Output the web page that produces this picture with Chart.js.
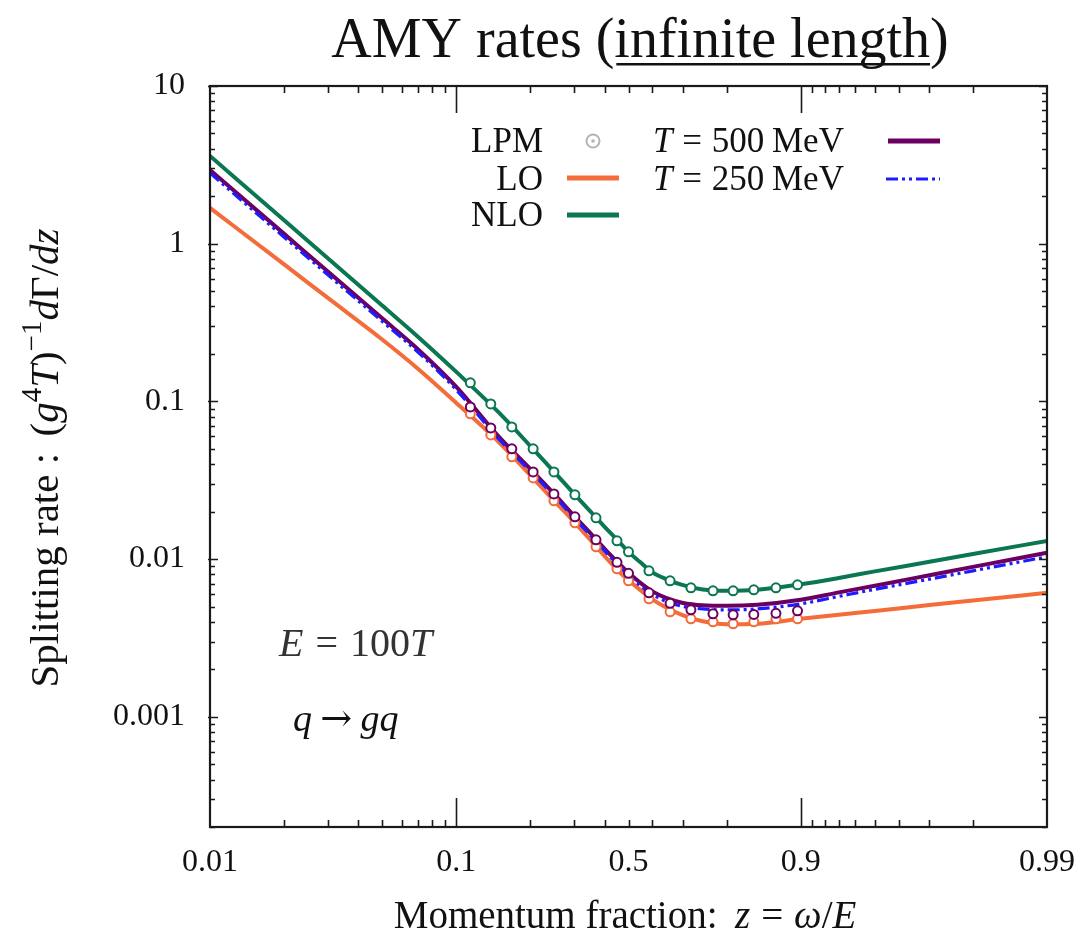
<!DOCTYPE html>
<html><head><meta charset="utf-8">
<script src="https://cdn.jsdelivr.net/npm/chart.js@4.4.1/dist/chart.umd.min.js"></script>
<style>html,body{margin:0;padding:0;background:#fff;} #wrap{width:1080px;height:939px;position:relative;}</style>
</head><body><div id="wrap"><canvas id="c"></canvas></div>
<script>
// ---------------- data ----------------
const zGrid    = [0.01,0.02,0.03,0.05,0.07,0.1,0.15,0.2,0.25,0.3,0.35,0.4,0.45,0.5,0.55,0.6,0.65,0.7,0.75,0.8,0.85,0.9,0.93,0.95,0.97,0.98,0.99];
const rateNLO  = [3.60,1.406,0.812,0.4055,0.2564,0.1538,0.0839,0.0520,0.0356,0.0260,0.02005,0.01603,0.01324,0.01111,0.00961,0.00823,0.00744,0.00683,0.00642,0.00629,0.00638,0.00692,0.00759,0.00836,0.00961,0.01076,0.01305];
const rateT500 = [2.934,1.154,0.668,0.3363,0.2136,0.1236,0.0589,0.0372,0.0258,0.01888,0.01461,0.01161,0.00961,0.00818,0.00712,0.00624,0.00565,0.00527,0.00509,0.00505,0.00513,0.00552,0.00615,0.00678,0.00790,0.00892,0.01096];
const rateT250 = [2.81,1.10,0.638,0.322,0.205,0.1183,0.0569,0.036,0.0251,0.0183,0.0142,0.01128,0.00927,0.00789,0.00681,0.00597,0.00538,0.00501,0.00483,0.00476,0.00483,0.0052,0.0058,0.00643,0.00746,0.00842,0.01034];
const rateLO   = [1.685,0.739,0.4545,0.247,0.1607,0.0978,0.0545,0.0340,0.0233,0.0173,0.01324,0.01044,0.00855,0.00733,0.0064,0.00556,0.00491,0.00439,0.00403,0.00386,0.00389,0.00418,0.00444,0.00469,0.00511,0.00546,0.00611];

const zLPM    = [0.114,0.138,0.168,0.205,0.249,0.303,0.369,0.449,0.5,0.587,0.661,0.721,0.773,0.812,0.845,0.874,0.897];
const lpmNLO  = [0.1311,0.0964,0.0689,0.0500,0.0357,0.02555,0.01826,0.01305,0.01111,0.00842,0.00728,0.00657,0.00629,0.00629,0.00638,0.00657,0.00687];
const lpmT500 = [0.0923,0.0679,0.0500,0.0357,0.0259,0.01853,0.01324,0.00954,0.00812,0.00611,0.00524,0.00477,0.0045,0.00443,0.00446,0.00453,0.0047];
const lpmLO   = [0.0834,0.0613,0.0445,0.0327,0.0234,0.01698,0.01196,0.00868,0.00728,0.0056,0.00463,0.00418,0.004,0.00389,0.004,0.00418,0.00418];

const xTickValues = [0.01,0.1,0.5,0.9,0.99];
const xTickLabels = ['0.01','0.1','0.5','0.9','0.99'];
const xMajorMarks = [0.1,0.9];
const xMinorMarks = [0.02,0.03,0.04,0.05,0.06,0.07,0.08,0.09,0.2,0.3,0.4,0.5,0.6,0.7,0.8,0.91,0.92,0.93,0.94,0.95,0.96,0.97,0.98];
const yTickValues = [0.001,0.01,0.1,1,10];
const yTickLabels = ['0.001','0.01','0.1','1','10'];
const yMinorMantissas = [2,3,4,5,6,7,8,9];
const yDecades = [1e-4,1e-3,1e-2,1e-1,1];

const C_NLO = '#0a7752', C_LO = '#f36c3a', C_500 = '#6c0062', C_250 = '#1c1cff', C_LPM = '#b4b4b4';
const FAM = "'Liberation Serif','Times New Roman',serif";

// ---------------- custom momentum-fraction axis ----------------
const g = z => z <= 0.5 ? Math.log10(z) : 2*Math.log10(0.5) - Math.log10(1 - z);
const gInv = t => t <= Math.log10(0.5) ? Math.pow(10, t) : 1 - Math.pow(10, 2*Math.log10(0.5) - t);
class ZFracScale extends Chart.LinearScale {
  buildTicks() { return xTickValues.map(v => ({value: v})); }
  configure() { super.configure(); this._g0 = g(this.min); this._g1 = g(this.max); }
  getPixelForValue(v) {
    if (v === null || v === undefined || isNaN(v)) return NaN;
    return this.getPixelForDecimal((g(v) - this._g0) / (this._g1 - this._g0));
  }
  getValueForPixel(p) { return gInv(this._g0 + this.getDecimalForPixel(p) * (this._g1 - this._g0)); }
}
ZFracScale.id = 'zfrac';
ZFracScale.defaults = {};
Chart.register(ZFracScale);

// ---------------- text helper ----------------
function runs(ctx, parts, x, y, size, align, color) {
  const font = st => {
    if (st === 'a') return size + "px 'DejaVu Serif',serif";
    return ((st === 'i' || st === 'supi') ? 'italic ' : '') +
      ((st === 'sup' || st === 'supi') ? Math.round(size * 0.7) : size) + 'px ' + FAM;
  };
  let w = 0;
  const items = parts.map(([t, st]) => {
    if (st === 'sp') { const ww = t * size; w += ww; return {t: '', st, w: ww}; }
    ctx.font = font(st); const ww = ctx.measureText(t).width; w += ww; return {t, st, w: ww};
  });
  let cx = align === 'center' ? x - w / 2 : align === 'right' ? x - w : x;
  const start = cx;
  ctx.fillStyle = color; ctx.textBaseline = 'alphabetic'; ctx.textAlign = 'left';
  const pos = [];
  for (const it of items) {
    pos.push(cx);
    if (it.t) {
      ctx.font = font(it.st);
      ctx.fillText(it.t, cx, (it.st === 'sup' || it.st === 'supi') ? y - size * 0.42 : y);
    }
    cx += it.w;
  }
  pos.push(cx);
  return {start, w, pos};
}

const decor = {
  id: 'decor',
  afterDatasetsDraw(chart) {
    const ctx = chart.ctx, a = chart.chartArea, xs = chart.scales.x, ys = chart.scales.y;
    ctx.save();
    ctx.strokeStyle = '#1a1a1a'; ctx.lineWidth = 1.6;
    ctx.beginPath();
    for (const z of xMinorMarks) {
      const p = Math.round(xs.getPixelForValue(z)) + 0.5;
      ctx.moveTo(p, a.bottom); ctx.lineTo(p, a.bottom - 7);
      ctx.moveTo(p, a.top); ctx.lineTo(p, a.top + 7);
    }
    for (const z of xMajorMarks) {
      const p = Math.round(xs.getPixelForValue(z)) + 0.5;
      ctx.moveTo(p, a.bottom); ctx.lineTo(p, a.bottom - 29);
      ctx.moveTo(p, a.top); ctx.lineTo(p, a.top + 27);
    }
    for (const d of yDecades) for (const m of yMinorMantissas) {
      const v = d * m; if (v < ys.min || v > ys.max) continue;
      const p = Math.round(ys.getPixelForValue(v)) + 0.5;
      ctx.moveTo(a.left, p); ctx.lineTo(a.left + 5, p);
      ctx.moveTo(a.right, p); ctx.lineTo(a.right - 5, p);
    }
    for (const v of yTickValues) {
      const p = Math.round(ys.getPixelForValue(v)) + 0.5;
      ctx.moveTo(a.left - 2, p); ctx.lineTo(a.left + 8, p);
      ctx.moveTo(a.right + 1, p); ctx.lineTo(a.right - 8, p);
    }
    ctx.stroke();
    ctx.lineWidth = 2.2;
    ctx.strokeRect(a.left, a.top, a.right - a.left, a.bottom - a.top);

    // legend
    const lg = 35;
    runs(ctx, [['LPM','n']], 543, 152, lg, 'right', '#111');
    runs(ctx, [['LO','n']], 543, 190, lg, 'right', '#111');
    runs(ctx, [['NLO','n']], 543, 226, lg, 'right', '#111');
    ctx.strokeStyle = C_LPM; ctx.lineWidth = 2;
    ctx.beginPath(); ctx.arc(593, 141, 6.5, 0, 2*Math.PI); ctx.stroke();
    ctx.fillStyle = C_LPM; ctx.beginPath(); ctx.arc(593, 141, 1.8, 0, 2*Math.PI); ctx.fill();
    ctx.lineCap = 'butt';
    ctx.lineWidth = 5; ctx.strokeStyle = C_LO;
    ctx.beginPath(); ctx.moveTo(567, 178); ctx.lineTo(619, 178); ctx.stroke();
    ctx.strokeStyle = C_NLO;
    ctx.beginPath(); ctx.moveTo(567, 215); ctx.lineTo(619, 215); ctx.stroke();
    ctx.strokeStyle = C_500;
    ctx.beginPath(); ctx.moveTo(888, 141); ctx.lineTo(940, 141); ctx.stroke();
    ctx.lineWidth = 3; ctx.strokeStyle = C_250; ctx.setLineDash([12,4,3,4,3,4]);
    ctx.beginPath(); ctx.moveTo(886, 179); ctx.lineTo(940, 179); ctx.stroke();
    ctx.setLineDash([]);
    const tRun = n => [['T','i'],[0.28,'sp'],['=','n'],[0.28,'sp'],[n,'n'],[0.22,'sp'],['MeV','n']];
    runs(ctx, tRun('500'), 653, 152, lg, 'left', '#111');
    runs(ctx, tRun('250'), 653, 190, lg, 'left', '#111');

    // annotations
    runs(ctx, [['E','i'],[0.3,'sp'],['=','n'],[0.3,'sp'],['100','n'],['T','i']], 279, 656, 40, 'left', '#333');
    runs(ctx, [['q','i'],[0.22,'sp'],['\u2192','a'],[0.22,'sp'],['gq','i']], 293, 731, 38, 'left', '#111');
    ctx.restore();
  },
  afterDraw(chart) {
    const ctx = chart.ctx;
    ctx.save();
    // title
    const r = runs(ctx, [['AMY rates (','n'],['infinite length','n'],[')','n']], 640, 57, 56, 'center', '#111');
    ctx.fillStyle = '#111';
    ctx.fillRect(r.pos[1] + 2, 63, r.pos[2] - r.pos[1] - 2, 2.5);
    // x title
    runs(ctx, [['Momentum fraction:','n'],[0.45,'sp'],['z','i'],[0.28,'sp'],['=','n'],[0.28,'sp'],['\u03C9','i'],['/','n'],['E','i']], 625, 928, 39, 'center', '#111');
    // y title
    ctx.translate(58, 458); ctx.rotate(-Math.PI/2);
    runs(ctx, [['Splitting rate :','n'],[0.4,'sp'],['(','n'],['g','i'],['4','sup'],['T','i'],[')','n'],['\u22121','sup'],['d','i'],['\u0393','n'],['/','n'],['d','i'],['z','i']], 0, 0, 41, 'center', '#111');
    ctx.restore();
  }
};

// ---------------- chart ----------------
const line = (label, vals, color, width, dash) => ({
  label, data: zGrid.map((z, i) => ({x: z, y: vals[i]})),
  borderColor: color, borderWidth: width, borderDash: dash || [], pointRadius: 0,
  fill: false, cubicInterpolationMode: 'monotone', borderCapStyle: 'butt', borderJoinStyle: 'round'
});
const marks = (label, vals, color) => ({
  label, data: zLPM.map((z, i) => ({x: z, y: vals[i]})), showLine: false,
  borderColor: color, backgroundColor: '#fff', borderWidth: 2, pointBorderWidth: 2,
  pointRadius: 4.5, pointStyle: 'circle'
});

new Chart(document.getElementById('c'), {
  type: 'line',
  data: { datasets: [
    marks('LPM NLO', lpmNLO, C_NLO),
    marks('LPM T=500', lpmT500, C_500),
    marks('LPM LO', lpmLO, C_LO),
    line('T = 250 MeV', rateT250, C_250, 3.2, [12,4,3,4,3,4]),
    line('T = 500 MeV', rateT500, C_500, 4),
    line('NLO', rateNLO, C_NLO, 4),
    line('LO', rateLO, C_LO, 4)
  ]},
  options: {
    responsive: true, maintainAspectRatio: false, animation: false, devicePixelRatio: 1,
    layout: { padding: { top: 86, right: 33, left: 0, bottom: 0 } },
    plugins: { legend: { display: false }, tooltip: { enabled: false }, title: { display: false } },
    scales: {
      x: {
        type: 'zfrac', min: 0.01, max: 0.99,
        grid: { display: false, drawTicks: false }, border: { display: false },
        ticks: { autoSkip: false, maxRotation: 0, padding: 16, color: '#111',
          font: { family: FAM, size: 32 },
          callback: (v) => { const i = xTickValues.indexOf(v); return i >= 0 ? xTickLabels[i] : ''; } },
        afterFit: s => { s.height = 112; s.paddingLeft = 0; s.paddingRight = 0; }
      },
      y: {
        type: 'logarithmic', min: 2e-4, max: 10,
        grid: { display: false, drawTicks: false }, border: { display: false },
        afterBuildTicks: s => { s.ticks = yTickValues.map(v => ({value: v, major: true})); },
        ticks: { autoSkip: false, padding: 25, color: '#111', font: { family: FAM, size: 32 },
          callback: (v) => { const i = yTickValues.indexOf(v); return i >= 0 ? yTickLabels[i] : ''; } },
        afterFit: s => { s.width = 210; s.paddingTop = 0; s.paddingBottom = 0; }
      }
    }
  },
  plugins: [decor]
});
</script>
</body></html>
